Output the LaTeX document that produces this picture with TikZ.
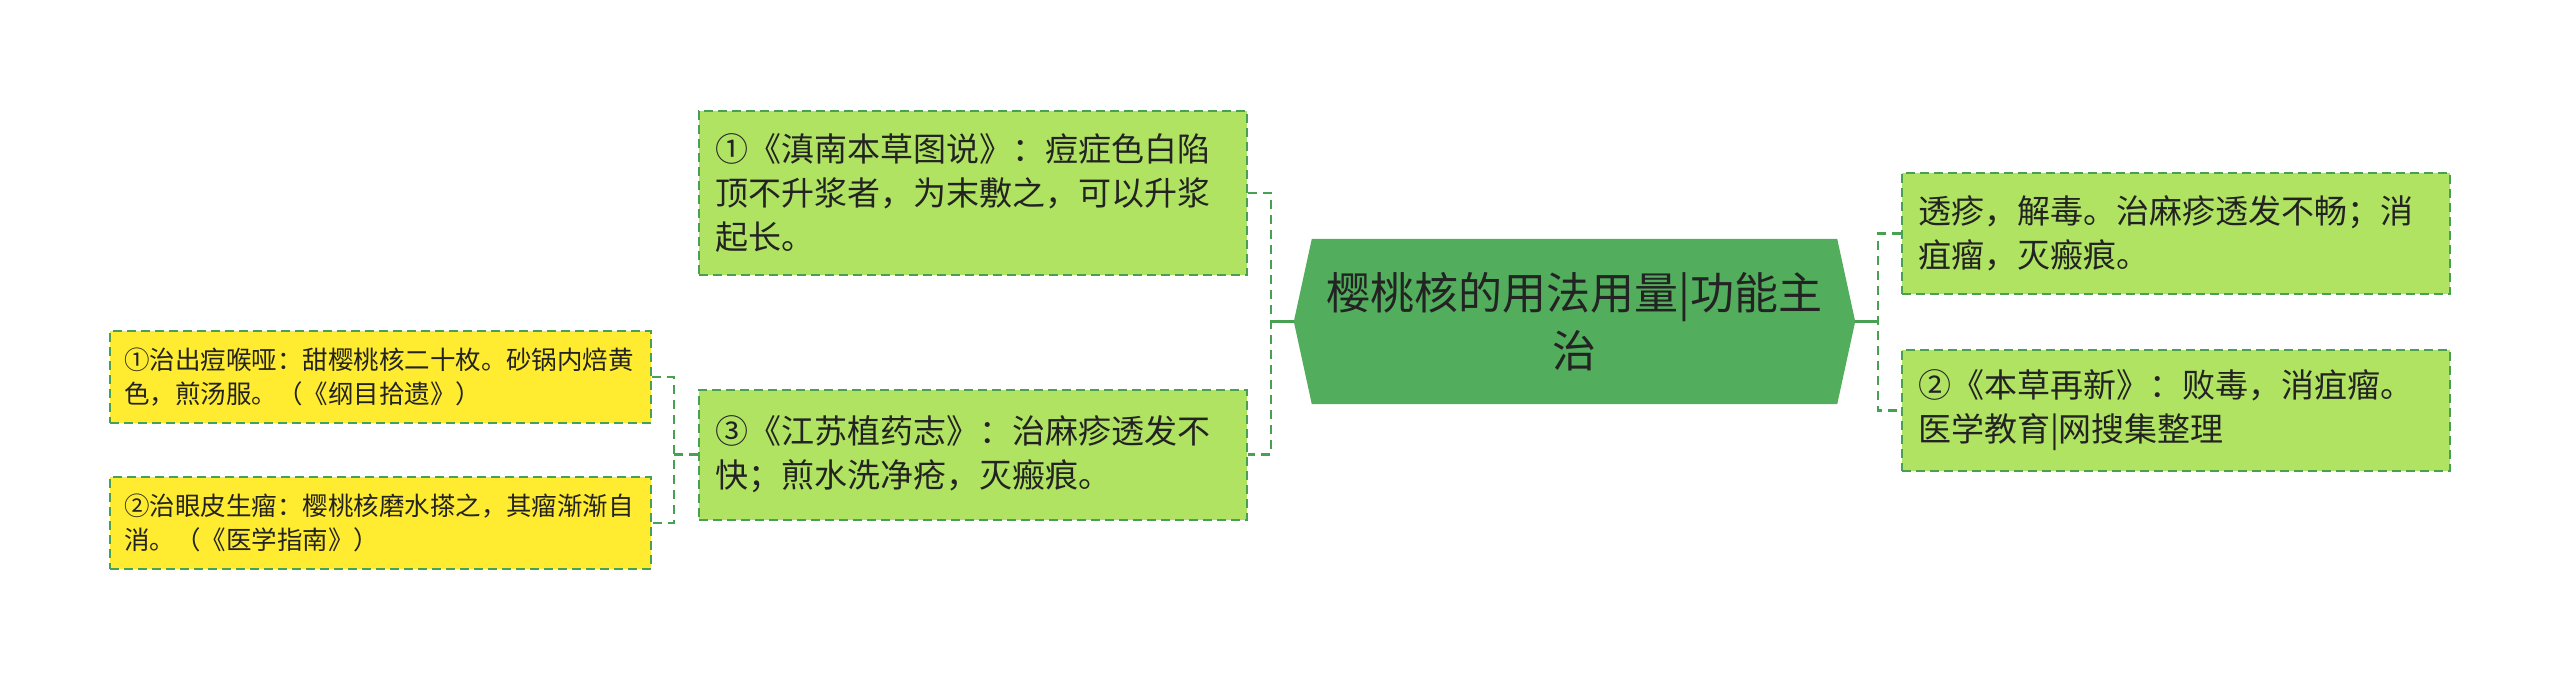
\documentclass[tikz,border=0pt]{standalone}
\usepackage{fontspec}
\setmainfont{Noto Sans CJK SC}
\usepackage{tikz}
\usetikzlibrary{backgrounds}
\usepackage{xcolor}
\definecolor{leafgreen}{RGB}{177,227,98}
\definecolor{leafyellow}{RGB}{255,235,48}
\definecolor{rootgreen}{RGB}{82,174,92}
\definecolor{linegreen}{RGB}{72,160,82}
\definecolor{inktext}{RGB}{35,35,35}

\begin{document}
\begin{tikzpicture}[x=1pt, y=-1pt,
  leaf/.style={rectangle, fill=leafgreen, draw=linegreen, line width=2pt,
    dash pattern=on 9pt off 5pt, text=inktext, align=left, inner sep=0pt,
    text width=516pt, minimum width=548pt, font=\fontsize{33}{44}\selectfont},
  subleaf/.style={leaf, fill=leafyellow, text width=513pt, minimum width=541pt,
    minimum height=92pt, font=\fontsize{25.5}{34}\selectfont},
  link/.style={linegreen, line width=2.5pt, dash pattern=on 9pt off 6pt},
  stem/.style={linegreen, line width=3pt}]
  \useasboundingbox (0,0) rectangle (2560,681);

  \node[text=inktext, align=center, inner sep=0pt, minimum width=561pt, minimum height=165pt,
    font=\fontsize{44}{58}\selectfont] (root) at (1574.5,321.5) {樱桃核的用法用量|功能主\\治};
  \begin{scope}[on background layer]
    \fill[rootgreen] (root.west) -- ([xshift=18pt]root.north west) -- ([xshift=-18pt]root.north east)
      -- (root.east) -- ([xshift=-18pt]root.south east) -- ([xshift=18pt]root.south west) -- cycle;
  \end{scope}

  \node[leaf, minimum height=164pt] (dianan) at (973,193) {①《滇南本草图说》：痘症色白陷\\顶不升浆者，为末敷之，可以升浆\\起长。};
  \node[leaf, minimum height=130pt] (jiangsu) at (973,454.5) {③《江苏植药志》：治麻疹透发不\\快；煎水洗净疮，灭瘢痕。};
  \node[leaf, minimum height=121pt] (touzhen) at (2176,233.5) {透疹，解毒。治麻疹透发不畅；消\\疽瘤，灭瘢痕。};
  \node[leaf, minimum height=121pt] (bencao) at (2176,410.5) {②《本草再新》：败毒，消疽瘤。\\医学教育|网搜集整理};
  \node[subleaf] (houya) at (380.5,377) {①治出痘喉哑：甜樱桃核二十枚。砂锅内焙黄\\色，煎汤服。（《纲目拾遗》）};
  \node[subleaf] (yanpi) at (380.5,523) {②治眼皮生瘤：樱桃核磨水搽之，其瘤渐渐自\\消。（《医学指南》）};

  \coordinate (jl) at ([xshift=-23pt]root.west);
  \coordinate (jr) at ([xshift=23pt]root.east);
  \coordinate (jb) at ([xshift=-24pt]jiangsu.west);
  \draw[stem] (root.west) -- (jl);
  \draw[stem] (root.east) -- (jr);
  \draw[link] (dianan.east) -| (jl) |- (jiangsu.east);
  \draw[link] (touzhen.west) -| (jr) |- (bencao.west);
  \draw[link] (jiangsu.west) -- (jb);
  \draw[link] (houya.east) -| (jb) |- (yanpi.east);
\end{tikzpicture}
\end{document}
